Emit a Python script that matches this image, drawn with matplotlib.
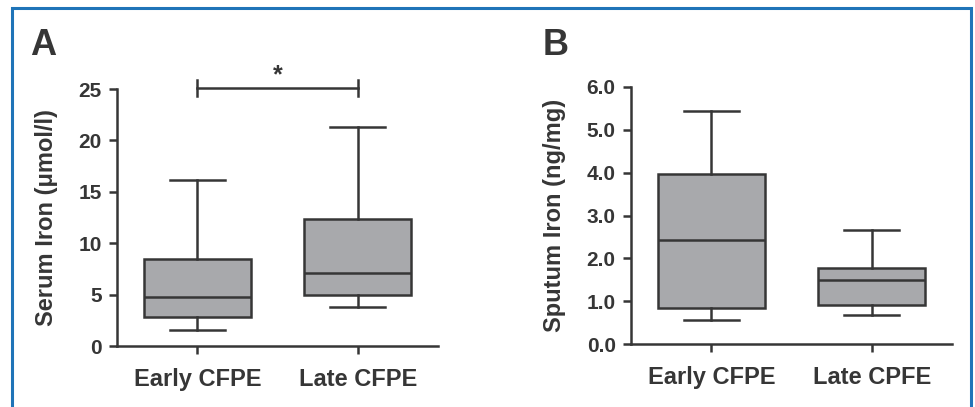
import matplotlib.pyplot as plt
from matplotlib.patches import Rectangle

# box statistics
groups_a = ["Early CFPE", "Late CFPE"]
serum_low = [1.6, 3.75]
serum_q1 = [2.8, 4.95]
serum_med = [4.8, 7.1]
serum_q3 = [8.5, 12.4]
serum_high = [16.1, 21.3]

groups_b = ["Early CFPE", "Late CPFE"]
sputum_low = [0.56, 0.68]
sputum_q1 = [0.83, 0.91]
sputum_med = [2.42, 1.50]
sputum_q3 = [3.96, 1.78]
sputum_high = [5.44, 2.67]

ink = "#363636"
fill = "#a8a9ac"
lw = 1.8

plt.rcParams['font.family'] = ['Liberation Sans', 'DejaVu Sans']
plt.rcParams['font.weight'] = 'bold'

fig = plt.figure(figsize=(9.75, 4.07), dpi=100)

# blue frame round the figure
fig.patches.append(Rectangle((12 / 975, -0.05), 959 / 975, 1 - 8 / 407 + 0.05,
                             transform=fig.transFigure, fill=False,
                             edgecolor="#1f74b8", lw=2.2))


def panel(ax, lows, q1s, meds, q3s, highs, labels, ymax, yticks, ylabel, fmt):
    stats = []
    for lo, a, m, b, hi in zip(lows, q1s, meds, q3s, highs):
        stats.append(dict(whislo=lo, q1=a, med=m, q3=b, whishi=hi, fliers=[]))
    ax.bxp(stats, positions=[1, 2], widths=0.667, capwidths=0.343,
           patch_artist=True, showfliers=False,
           boxprops=dict(facecolor=fill, edgecolor=ink, lw=lw),
           medianprops=dict(color=ink, lw=lw),
           whiskerprops=dict(color=ink, lw=lw),
           capprops=dict(color=ink, lw=lw))
    ax.set_xlim(0.5, 2.5)
    ax.set_ylim(0, ymax)
    ax.set_yticks(yticks)
    ax.set_yticklabels([fmt.format(t) for t in yticks])
    ax.set_xticks([1, 2])
    ax.set_xticklabels(labels, fontsize=17)
    for s in ["top", "right"]:
        ax.spines[s].set_visible(False)
    for s in ["left", "bottom"]:
        ax.spines[s].set_color(ink)
        ax.spines[s].set_linewidth(lw)
    ax.tick_params(axis="y", length=6, width=lw, color=ink, labelcolor=ink,
                   labelsize=15, pad=5)
    ax.tick_params(axis="x", length=6, width=lw, color=ink, labelcolor=ink,
                   pad=10)
    ax.set_ylabel(ylabel, fontsize=17, fontweight="bold", color=ink, labelpad=15)
    ax.patch.set_visible(False)


ax_a = fig.add_axes([117 / 975, 1 - 346 / 407, 321 / 975, 257 / 407])
panel(ax_a, serum_low, serum_q1, serum_med, serum_q3, serum_high, groups_a,
      25, [0, 5, 10, 15, 20, 25], "Serum Iron (\u03bcmol/l)", "{:g}")

# significance bracket
ax_a.plot([1, 2], [25.1, 25.1], color=ink, lw=lw, clip_on=False)
for x in [1, 2]:
    ax_a.plot([x, x], [24.35, 25.85], color=ink, lw=lw, clip_on=False)
ax_a.text(1.5, 25.2, "*", ha="center", va="bottom", fontsize=18, color=ink)

ax_b = fig.add_axes([631 / 975, 1 - 344 / 407, 321 / 975, 257 / 407])
panel(ax_b, sputum_low, sputum_q1, sputum_med, sputum_q3, sputum_high, groups_b,
      6, [0, 1, 2, 3, 4, 5, 6], "Sputum Iron (ng/mg)", "{:.1f}")

fig.text(30 / 975, 1 - 55 / 407, "A", fontsize=26, color=ink, ha="left", va="baseline")
fig.text(543 / 975, 1 - 55 / 407, "B", fontsize=26, color=ink, ha="left", va="baseline")

fig.savefig("out.png", dpi=100)
